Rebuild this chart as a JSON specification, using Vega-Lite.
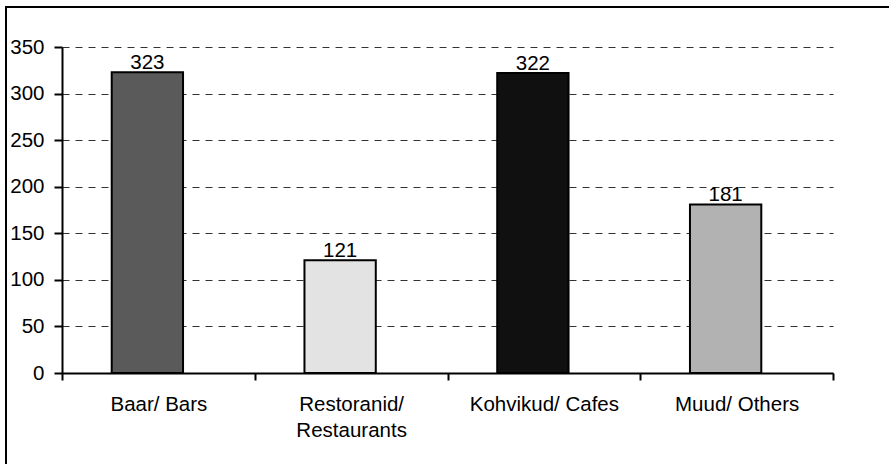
{
  "$schema": "https://vega.github.io/schema/vega-lite/v6.json",
  "width": 890,
  "height": 470,
  "padding": {"left": 6, "top": 7, "right": 0, "bottom": 0},
  "autosize": {"type": "none"},
  "background": "white",
  "config": {
    "view": {"stroke": "black", "strokeWidth": 2},
    "font": "Liberation Sans"
  },
  "data": {
    "values": [
      {"category": "Baar/ Bars", "count": 323},
      {"category": "Restoranid/ Restaurants", "count": 121},
      {"category": "Kohvikud/ Cafes", "count": 322},
      {"category": "Muud/ Others", "count": 181}
    ]
  },
  "encoding": {
    "x": {
      "field": "category",
      "type": "nominal",
      "sort": null,
      "scale": {"range": [56, 827], "paddingInner": 0, "paddingOuter": 0},
      "axis": {
        "title": null,
        "labelAngle": 0,
        "offset": -104,
        "domainColor": "black",
        "domainWidth": 2,
        "tickColor": "black",
        "tickWidth": 2,
        "tickSize": 7,
        "tickBand": "extent",
        "labelFontSize": 20.5,
        "labelColor": "black",
        "labelPadding": 14,
        "labelLineHeight": 26,
        "labelOverlap": false,
        "labelLimit": 300,
        "labelExpr": "datum.label == 'Restoranid/ Restaurants' ? ['Restoranid/', 'Restaurants'] : datum.label"
      }
    },
    "y": {
      "field": "count",
      "type": "quantitative",
      "scale": {"domain": [0, 350], "range": [366, 40], "nice": false, "zero": true},
      "axis": {
        "title": null,
        "values": [0, 50, 100, 150, 200, 250, 300, 350],
        "offset": -56,
        "grid": true,
        "gridDash": [7, 6],
        "gridColor": "#333333",
        "gridWidth": 1,
        "gridOpacity": 1,
        "domainColor": "black",
        "domainWidth": 2,
        "tickColor": "black",
        "tickWidth": 2,
        "tickSize": 8,
        "labelFontSize": 20.5,
        "labelColor": "black",
        "labelPadding": 10
      }
    }
  },
  "layer": [
    {
      "mark": {
        "type": "bar",
        "width": {"band": 0.37},
        "xOffset": -11,
        "stroke": "black",
        "strokeWidth": 2
      },
      "encoding": {
        "color": {
          "field": "category",
          "type": "nominal",
          "scale": {
            "domain": ["Baar/ Bars", "Restoranid/ Restaurants", "Kohvikud/ Cafes", "Muud/ Others"],
            "range": ["#5a5a5a", "#e3e3e3", "#101010", "#b2b2b2"]
          },
          "legend": null
        }
      }
    },
    {
      "mark": {
        "type": "text",
        "xOffset": -11,
        "dy": -3,
        "baseline": "alphabetic",
        "fontSize": 20.5,
        "color": "black"
      },
      "encoding": {
        "text": {"field": "count", "type": "quantitative"}
      }
    }
  ]
}
